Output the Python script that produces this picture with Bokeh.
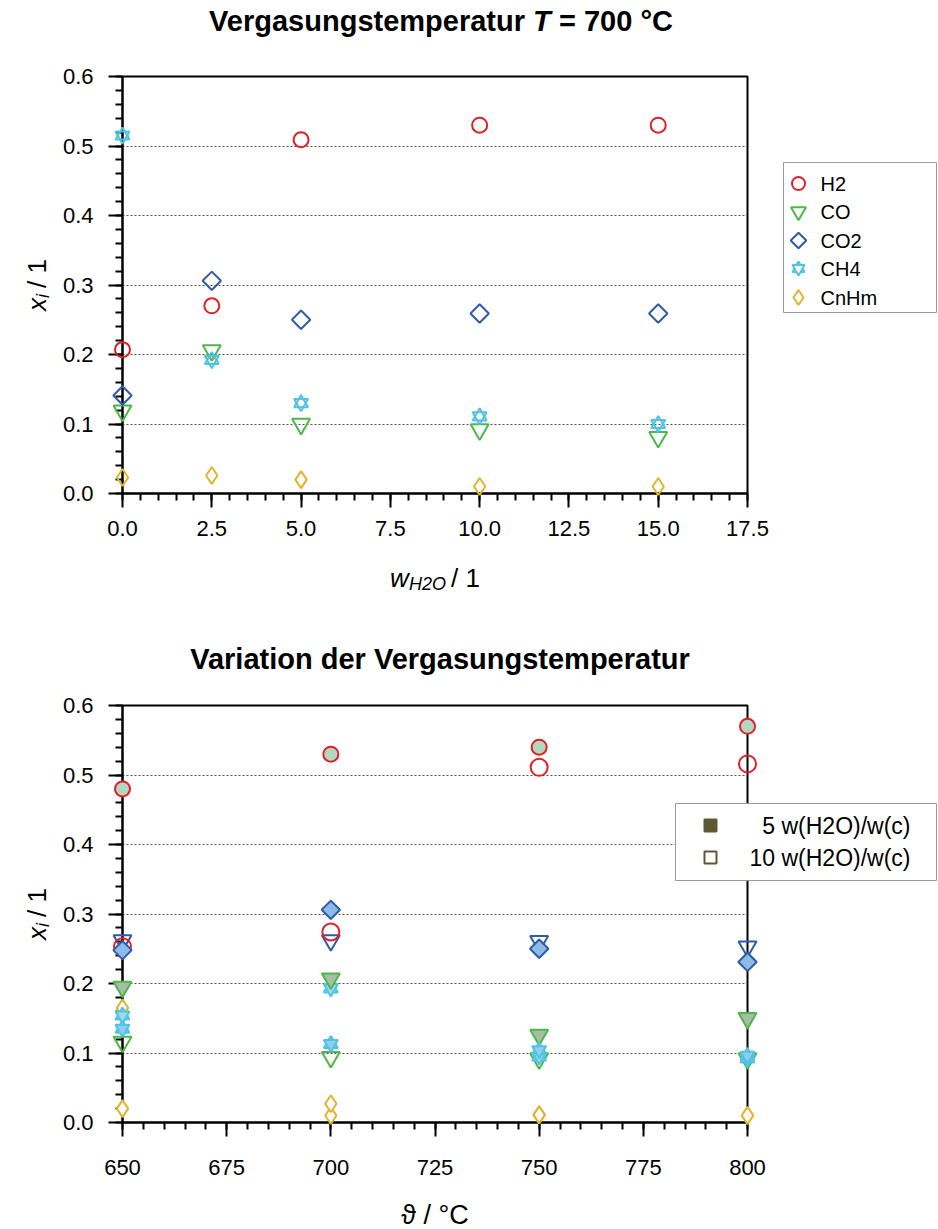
from math import pi
from bokeh.plotting import figure
from bokeh.models import Range1d, FixedTicker, NumeralTickFormatter, ColumnDataSource
from bokeh.core.properties import value
from bokeh.layouts import column
from bokeh.embed import file_html
from bokeh.resources import INLINE

# ---------------- data: top chart (T = 700 °C) ----------------
W_H2O = [0.0, 2.5, 5.0, 10.0, 15.0]
H2 = [0.207, 0.270, 0.509, 0.530, 0.530]
CO = [0.119, 0.206, 0.100, 0.092, 0.081]
CO2 = [0.141, 0.306, 0.250, 0.259, 0.259]
CH4 = [0.515, 0.192, 0.130, 0.111, 0.100]
CNHM = [0.023, 0.026, 0.020, 0.010, 0.010]
SPECIES = ["H2", "CO", "CO2", "CH4", "CnHm"]

TOP_X_TICKS = [0.0, 2.5, 5.0, 7.5, 10.0, 12.5, 15.0, 17.5]
TOP_X_MINOR = [i * 0.5 for i in range(36)]
Y_TICKS = [0.0, 0.1, 0.2, 0.3, 0.4, 0.5, 0.6]
Y_MINOR = [i * 0.02 for i in range(31)]

# ---------------- data: bottom chart (temperature variation) ----------------
TEMP = [650, 700, 750, 800]
H2_5 = [0.480, 0.530, 0.540, 0.570]
H2_10 = [0.253, 0.274, 0.511, 0.516]
CO_5 = [0.195, 0.207, 0.126, 0.150]
CO_10 = [0.116, 0.094, 0.092, 0.092]
CO2_5 = [0.248, 0.306, 0.250, 0.231]
CO2_10 = [0.262, 0.262, 0.261, 0.253]
CH4_5 = [0.135, 0.113, 0.104, 0.096]
CH4_10 = [0.154, 0.193, 0.095, 0.092]
CNHM_5 = [0.020, 0.027, 0.011, 0.010]
CNHM_10 = [0.165, 0.010, 0.011, 0.010]
RATIO_LABELS = ["5 w(H2O)/w(c)", "10 w(H2O)/w(c)"]

BOT_X_TICKS = [650, 675, 700, 725, 750, 775, 800]
BOT_X_MINOR = list(range(650, 801, 5))

# ---------------- style / layout ----------------
RED = "#e31e26"
GREEN = "#4db848"
BLUE = "#2f5ba8"
CYAN = "#4fc3e3"
YELLOW = "#e3b42a"
OLIVE = "#5c5a32"
FONT = "Liberation Sans"
LV = "overlay"    # drawn above the frame clip so edge markers stay whole

FRAME_LEFT = 122  # page px
FRAME_W = 625
FRAME_H = 417
FIG_W = 938


def txt(p, x, y, s, size, dx, dy, style="normal", align="left", angle=0.0,
        baseline="alphabetic"):
    p.text(x=[x], y=[y], text=[s], x_offset=dx, y_offset=dy, angle=angle,
           text_font=value(FONT), text_font_size=f"{size}px",
           text_font_style=style, text_align=align,
           text_baseline=baseline, text_color="black", level=LV)


def conv(xlim, ylim, top_page, px, py):
    """page pixel -> data coordinate (for legend placement)"""
    x = xlim[0] + (px - FRAME_LEFT) * (xlim[1] - xlim[0]) / FRAME_W
    y = ylim[1] - (py - top_page) * (ylim[1] - ylim[0]) / FRAME_H
    return x, y


def make_fig(xlim, ylim, height, top, bottom):
    p = figure(width=FIG_W, height=height,
               x_range=Range1d(*xlim), y_range=Range1d(*ylim),
               min_border_left=FRAME_LEFT,
               min_border_right=FIG_W - FRAME_LEFT - FRAME_W,
               min_border_top=top, min_border_bottom=bottom,
               output_backend="svg", toolbar_location=None,
               background_fill_color="white", border_fill_color="white")
    p.outline_line_color = "black"
    p.outline_line_width = 2
    p.xgrid.visible = False
    p.ygrid.grid_line_color = "#505050"
    p.ygrid.grid_line_dash = "2 2"
    p.ygrid.grid_line_width = 1
    for ax in (p.xaxis[0], p.yaxis[0]):
        ax.axis_line_width = 2
        ax.axis_line_color = "black"
        ax.major_tick_line_width = 2
        ax.minor_tick_line_width = 2
        ax.major_tick_line_color = "black"
        ax.minor_tick_line_color = "black"
        ax.major_tick_out = 14
        ax.major_tick_in = 0
        ax.minor_tick_out = 7
        ax.minor_tick_in = 0
        ax.major_label_text_font = FONT
        ax.major_label_text_font_size = "22px"
        ax.major_label_text_color = "black"
    p.yaxis[0].ticker = FixedTicker(ticks=Y_TICKS, minor_ticks=Y_MINOR)
    p.yaxis[0].formatter = NumeralTickFormatter(format="0.0")
    p.yaxis[0].major_label_standoff = 15
    # y axis label: x_i / 1 (rotated)
    xm = xlim[0]
    ym = (ylim[0] + ylim[1]) / 2
    txt(p, xm, ym, "x", 26, -86, 26, "italic", angle=pi / 2)
    txt(p, xm, ym, "i", 18, -80, 13, "italic", angle=pi / 2)
    txt(p, xm, ym, "/ 1", 26, -86, 3, angle=pi / 2)
    return p


def hexagram(p, x, y, size, line_color, fill_color=None):
    for m in ("triangle", "inverted_triangle"):
        p.scatter(x, y, marker=m, size=size, line_color=line_color,
                  fill_color=fill_color, line_width=2, level=LV)


def legend_box(p, xlim, ylim, top_page, l, r, t, b):
    x0, y0 = conv(xlim, ylim, top_page, l, b)
    x1, y1 = conv(xlim, ylim, top_page, r, t)
    p.quad(left=[x0], right=[x1], bottom=[y0], top=[y1], fill_color="white",
           line_color="#9a9a9a", line_width=1, level=LV)


def legend_glyphs(p, xs, ys, markers, sizes, colors, angles, fills):
    # a final transparent oversized entry widens the marker culling margin so
    # the legend symbols placed outside the frame are still drawn
    n = len(xs)
    src = ColumnDataSource(data=dict(
        x=xs + [xs[-1]], y=ys + [ys[-1]], marker=markers + ["circle"],
        size=sizes + [300], color=colors + ["white"], angle=angles + [0.0],
        fill=fills + ["white"], alpha=[1.0] * n + [0.0]))
    p.scatter("x", "y", source=src, marker="marker", size="size",
              angle="angle", line_color="color", fill_color="fill",
              line_alpha="alpha", fill_alpha="alpha", line_width=2, level=LV)


# ======================= top chart =======================
TX = (0.0, 17.5)
TY = (0.0, 0.6)
TOP1 = 76            # border above frame (figure starts at page y 0)
TOP1_PAGE = 76       # page y of frame top
p1 = make_fig(TX, TY, 620, TOP1, 127)
p1.xaxis[0].ticker = FixedTicker(ticks=TOP_X_TICKS, minor_ticks=TOP_X_MINOR)
p1.xaxis[0].formatter = NumeralTickFormatter(format="0.0")
p1.xaxis[0].major_label_standoff = 13

p1.scatter(W_H2O, H2, marker="circle", size=15, line_color=RED,
           fill_color=None, line_width=2, level=LV)
p1.scatter(W_H2O, CO, marker="inverted_triangle", size=18,
           line_color=GREEN, fill_color=None, line_width=2, level=LV)
p1.scatter(W_H2O, CO2, marker="square", angle=pi / 4, size=13,
           line_color=BLUE, fill_color=None, line_width=2, level=LV)
hexagram(p1, W_H2O, CH4, 14, CYAN)
p1.scatter(W_H2O, CNHM, marker="diamond", size=17,
           line_color=YELLOW, fill_color=None, line_width=2, level=LV)

# legend (species)
legend_box(p1, TX, TY, TOP1_PAGE, 783, 936, 162, 312)
rows = [183, 211, 240, 268, 297]
sym = [("circle", 13, RED, 0.0), ("inverted_triangle", 15, GREEN, 0.0),
       ("square", 11, BLUE, pi / 4), ("triangle", 12, CYAN, 0.0),
       ("diamond", 15, YELLOW, 0.0)]
lx, ly, lm, ls, lc, la = [], [], [], [], [], []
for name, ry, (mk, sz, col, ang) in zip(SPECIES, rows, sym):
    gx, gy = conv(TX, TY, TOP1_PAGE, 798, ry)
    lx.append(gx); ly.append(gy); lm.append(mk); ls.append(sz)
    lc.append(col); la.append(ang)
    if name == "CH4":  # second triangle makes the star of David
        lx.append(gx); ly.append(gy); lm.append("inverted_triangle")
        ls.append(sz); lc.append(col); la.append(0.0)
    txt(p1, gx, gy, name, 20, 22, 0, baseline="middle")
legend_glyphs(p1, lx, ly, lm, ls, lc, la, ["white"] * len(lx))

xm1 = (TX[0] + TX[1]) / 2
# title with italic T
txt(p1, xm1, TY[1], "Vergasungstemperatur", 29, 90, -56, "bold", "right")
txt(p1, xm1, TY[1], "T", 29, 98, -56, "bold italic")
txt(p1, xm1, TY[1], "= 700 °C", 29, 124, -56, "bold")
# x axis label: w_H2O / 1
txt(p1, xm1, TY[0], "w", 26, -45, 84, "italic")
txt(p1, xm1, TY[0], "H2O", 18, -26, 90, "italic")
txt(p1, xm1, TY[0], "/ 1", 26, 16, 84)

# ======================= bottom chart =======================
BX = (650, 800)
BY = (0.0, 0.6)
TOP2 = 85            # border above frame
TOP2_PAGE = 620 + TOP2
p2 = make_fig(BX, BY, 609, TOP2, 107)
p2.xaxis[0].ticker = FixedTicker(ticks=BOT_X_TICKS, minor_ticks=BOT_X_MINOR)
p2.xaxis[0].formatter = NumeralTickFormatter(format="0")
p2.xaxis[0].major_label_standoff = 23

# 10 w(H2O)/w(c): open markers
p2.scatter(TEMP, CNHM_10, marker="diamond", size=17, line_color=YELLOW,
           fill_color="white", line_width=2, level=LV)
p2.scatter(TEMP, CO_10, marker="inverted_triangle", size=18,
           line_color=GREEN, fill_color=None, line_width=2, level=LV)
hexagram(p2, TEMP, CH4_10, 14, CYAN, "#9fd8ee")
p2.scatter(TEMP, CO2_10, marker="inverted_triangle", size=18,
           line_color=BLUE, fill_color=None, line_width=2, level=LV)
p2.scatter(TEMP, H2_10, marker="circle", size=17, line_color=RED,
           fill_color=None, line_width=2, level=LV)
# 5 w(H2O)/w(c): filled markers
p2.scatter(TEMP, CNHM_5, marker="diamond", size=17, line_color=YELLOW,
           fill_color="white", line_width=2, level=LV)
p2.scatter(TEMP, CO_5, marker="inverted_triangle", size=18,
           line_color=GREEN, fill_color="#a9bca5", line_width=2, level=LV)
hexagram(p2, TEMP, CH4_5, 14, CYAN, "#8fcdea")
p2.scatter(TEMP, CO2_5, marker="square", angle=pi / 4, size=13,
           line_color=BLUE, fill_color="#8dbbe8", line_width=2, level=LV)
p2.scatter(TEMP, H2_5, marker="circle", size=15, line_color=RED,
           fill_color="#b2d8bd", line_width=2, level=LV)

# legend (steam ratio)
legend_box(p2, BX, BY, TOP2_PAGE, 675, 936, 803, 880)
bx, by = [], []
for lab, ry in zip(RATIO_LABELS, [825, 857]):
    gx, gy = conv(BX, BY, TOP2_PAGE, 710, ry)
    bx.append(gx); by.append(gy)
    tx, ty = conv(BX, BY, TOP2_PAGE, 910, ry)
    txt(p2, tx, ty, lab, 23, 0, 0, align="right", baseline="middle")
legend_glyphs(p2, bx, by, ["square", "square"], [12, 12], [OLIVE, OLIVE],
              [0.0, 0.0], [OLIVE, "white"])

xm2 = (BX[0] + BX[1]) / 2
txt(p2, xm2, BY[1], "Variation der Vergasungstemperatur", 29, 5, -47,
    "bold", "center")
txt(p2, xm2, BY[0], "ϑ / °C", 27, 0, 92, "normal", "center")

layout = column(p1, p2)
open("out.html", "w").write(file_html(layout, INLINE))
